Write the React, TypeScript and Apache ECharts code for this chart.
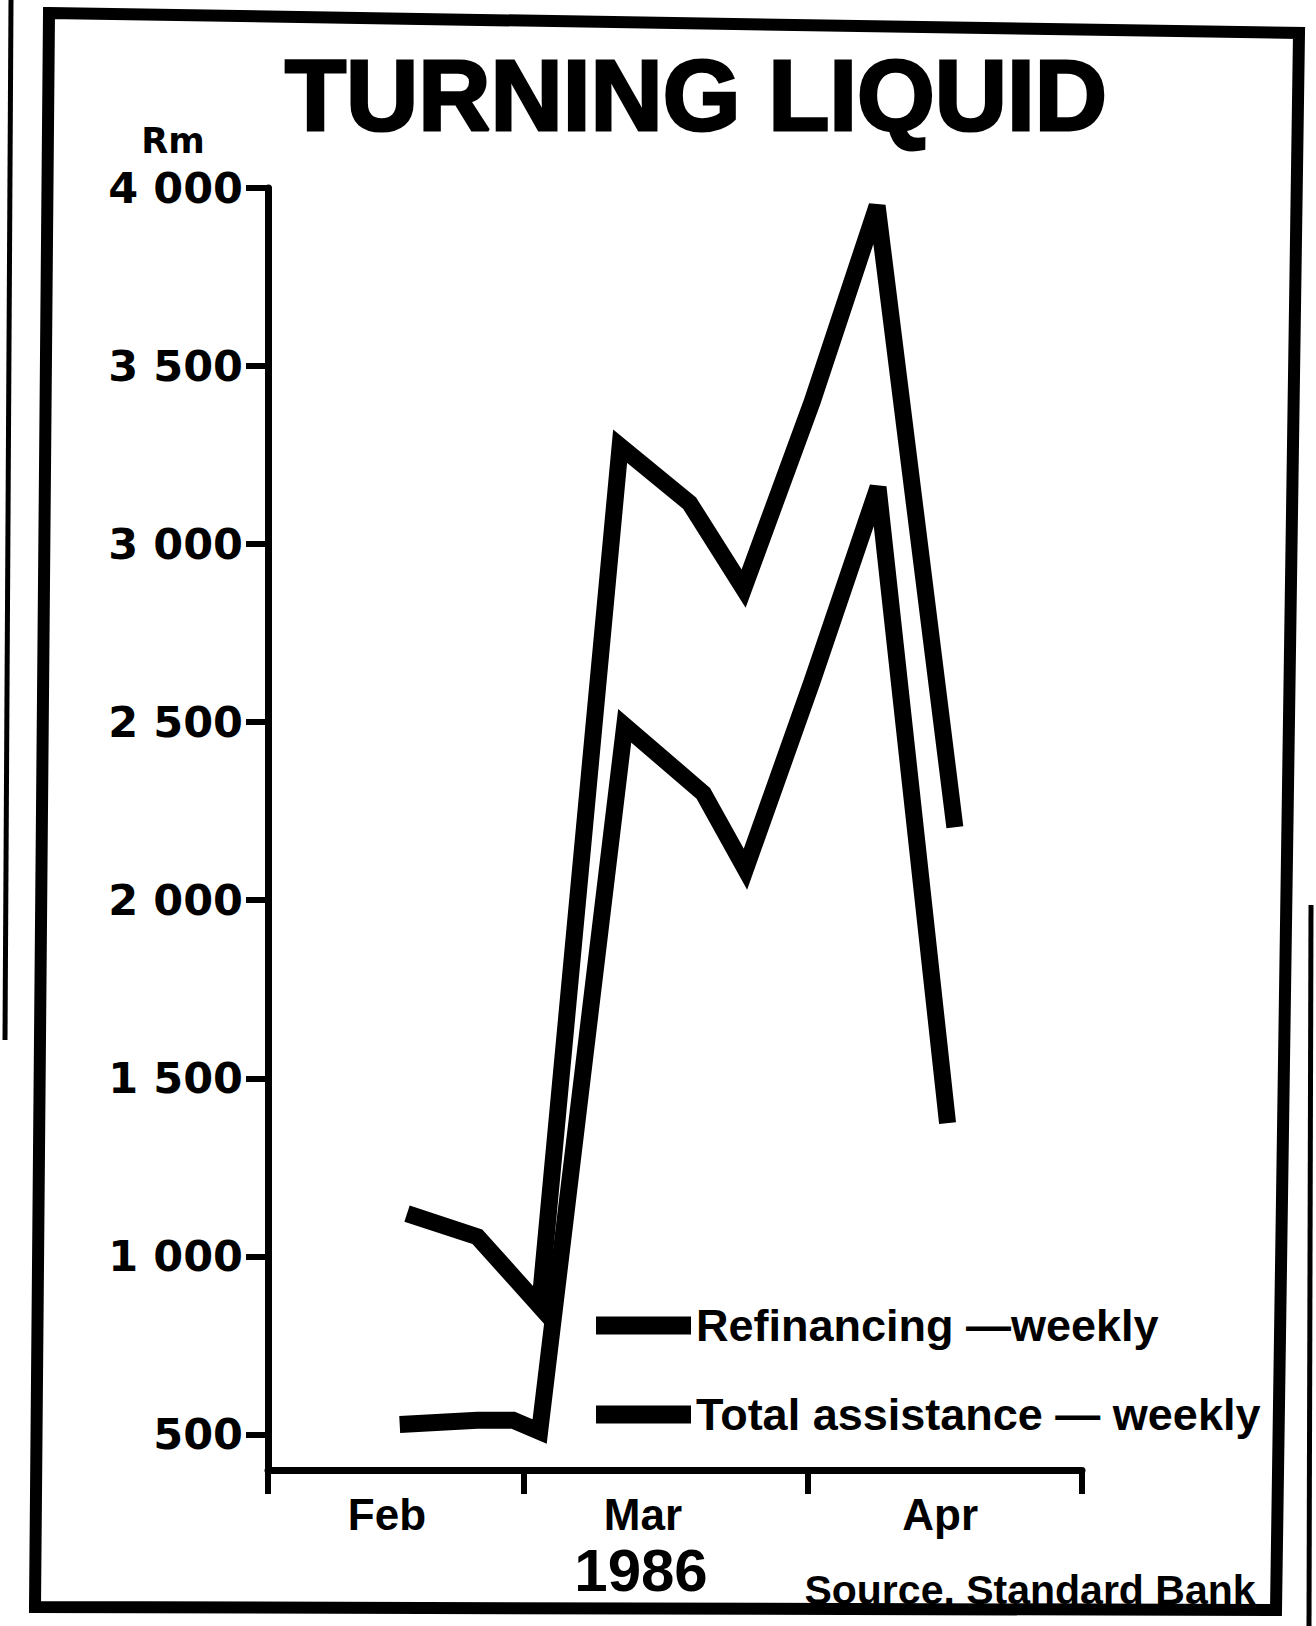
import React, { useEffect, useRef } from "react";
import * as echarts from "echarts";

// Axis content
const monthNames = ["Feb", "Mar", "Apr"];
const monthLabelDays = [13, 41, 73.5];
const monthBoundaryDays = [0, 28, 59, 89];
const yTickValues = [500, 1000, 1500, 2000, 2500, 3000, 3500, 4000];

// Series (x = days after 1 Feb 1986, y = Rm)
const refinancingDays = [14.4, 22.9, 26.8, 29.7, 39.0, 47.6, 52.2, 59.5, 66.7, 74.3];
const refinancingValues = [528, 540, 540, 508, 2490, 2300, 2087, 2615, 3160, 1374];
const totalDays = [15.2, 22.9, 29.7, 38.5, 46.1, 52.0, 59.5, 66.6, 75.1];
const totalValues = [1120, 1055, 860, 3275, 3115, 2875, 3400, 3950, 2205];

const seriesNames = ["Refinancing \u2014weekly", "Total assistance \u2014 weekly"];

const fmtY = (v: number) =>
  v >= 1000 ? `${Math.floor(v / 1000)} ${String(v % 1000).padStart(3, "0")}` : String(v);

export default function App() {
  const ref = useRef<HTMLDivElement>(null);
  useEffect(() => {
    document.body.style.margin = "0";
    const chart = echarts.init(ref.current!, null, { renderer: "svg" });
    const lineStyle = { color: "#000", width: 17, join: "miter", miterLimit: 10, cap: "butt" };
    chart.setOption({
      animation: false,
      backgroundColor: "#ffffff",
      grid: { left: 268, right: 234, top: 188, bottom: 156 },
      xAxis: {
        type: "value",
        min: 0,
        max: 89,
        axisLine: { onZero: false, lineStyle: { color: "#000", width: 7 } },
        axisTick: {
          show: true,
          customValues: monthBoundaryDays,
          length: 24,
          lineStyle: { color: "#000", width: 6 },
        },
        axisLabel: {
          customValues: monthLabelDays,
          formatter: (v: number) => {
            let best = 0;
            monthLabelDays.forEach((d, i) => {
              if (Math.abs(d - v) < Math.abs(monthLabelDays[best] - v)) best = i;
            });
            return monthNames[best];
          },
          margin: 22,
          color: "#000",
          fontFamily: "Liberation Sans",
          fontWeight: "bold",
          fontSize: 44,
        },
        splitLine: { show: false },
      },
      yAxis: {
        type: "value",
        min: 400,
        max: 4000,
        axisLine: { show: true, onZero: false, lineStyle: { color: "#000", width: 7 } },
        axisTick: {
          show: true,
          customValues: yTickValues,
          length: 22,
          lineStyle: { color: "#000", width: 6 },
        },
        axisLabel: {
          customValues: yTickValues,
          formatter: (v: number) => fmtY(v),
          margin: 25,
          color: "#000",
          fontFamily: "DejaVu Sans",
          fontWeight: "bold",
          fontSize: 43,
        },
        splitLine: { show: false },
      },
      legend: {
        orient: "vertical",
        left: 591,
        top: 1298,
        itemWidth: 95,
        itemHeight: 18,
        itemGap: 44,
        icon: "rect",
        itemStyle: { color: "#000", borderWidth: 0 },
        data: seriesNames,
        textStyle: {
          color: "#000",
          fontFamily: "Liberation Sans",
          fontWeight: "bold",
          fontSize: 45,
        },
      },
      series: [
        {
          name: seriesNames[0],
          type: "line",
          symbol: "none",
          data: refinancingDays.map((d, i) => [d, refinancingValues[i]]),
          lineStyle,
          itemStyle: { color: "#000" },
        },
        {
          name: seriesNames[1],
          type: "line",
          symbol: "none",
          data: totalDays.map((d, i) => [d, totalValues[i]]),
          lineStyle,
          itemStyle: { color: "#000" },
        },
      ],
      graphic: [
        {
          type: "polygon",
          shape: { points: [[49, 13], [1299, 33], [1276, 1610], [35, 1607]] },
          style: { fill: "none", stroke: "#000", lineWidth: 12 },
          z: 10,
        },
        { type: "line", shape: { x1: 11, y1: 0, x2: 5, y2: 1040 }, style: { stroke: "#000", lineWidth: 5 } },
        { type: "line", shape: { x1: 1311, y1: 905, x2: 1309, y2: 1626 }, style: { stroke: "#000", lineWidth: 5 } },
        {
          type: "text",
          x: 696,
          y: 95,
          style: {
            text: "TURNING LIQUID",
            font: "bold 100px 'Liberation Sans'",
            fill: "#000",
            stroke: "#000",
            lineWidth: 3,
            textAlign: "center",
            textVerticalAlign: "middle",
          },
        },
        {
          type: "text",
          x: 173,
          y: 141,
          style: {
            text: "Rm",
            font: "bold 35px 'DejaVu Sans'",
            fill: "#000",
            textAlign: "center",
            textVerticalAlign: "middle",
          },
        },
        {
          type: "text",
          x: 641,
          y: 1570,
          style: {
            text: "1986",
            font: "bold 60px 'Liberation Sans'",
            fill: "#000",
            textAlign: "center",
            textVerticalAlign: "middle",
          },
        },
        {
          type: "text",
          x: 1030,
          y: 1590,
          style: {
            text: "Source. Standard Bank",
            font: "bold 41px 'Liberation Sans'",
            fill: "#000",
            textAlign: "center",
            textVerticalAlign: "middle",
          },
        },
      ],
    });
    return () => chart.dispose();
  }, []);
  return <div ref={ref} style={{ width: 1316, height: 1626 }} />;
}
